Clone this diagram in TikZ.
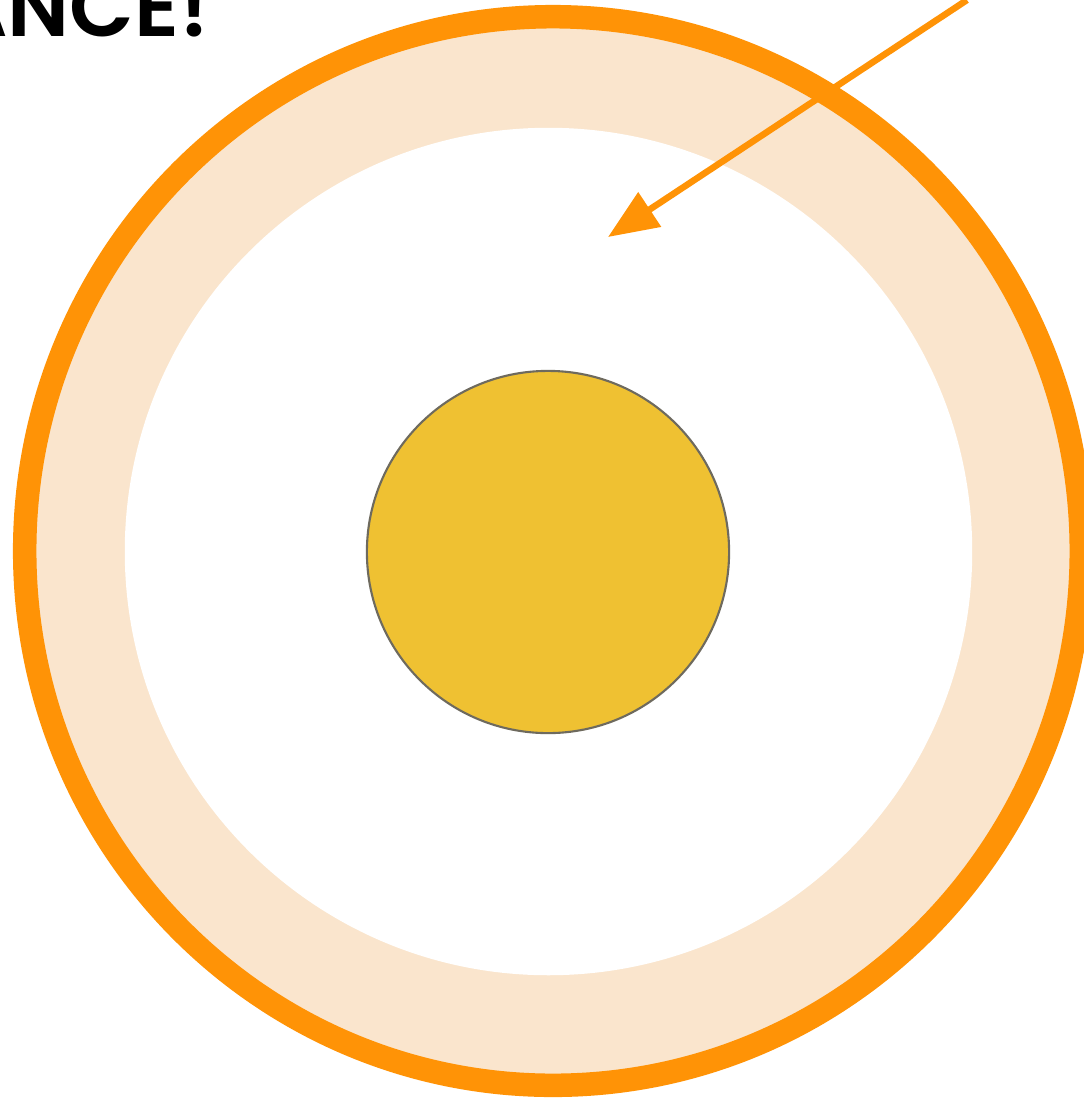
\documentclass[tikz,border=0pt]{standalone}
\usepackage{fontspec}
\setmainfont{Poppins}
\newfontfamily\headfont{Poppins}[UprightFont=* SemiBold]
\usetikzlibrary{arrows.meta}
\definecolor{ringorange}{HTML}{FF9306}
\definecolor{ringpale}{HTML}{FAE5CD}
\definecolor{coreyellow}{HTML}{EFC132}
\definecolor{coreedge}{HTML}{6E6A5E}
\tikzset{
  pointer/.style={ringorange,line width=0.065cm,-{Triangle[length=0.5cm,width=0.4cm]}},
  core/.style={circle,draw=coreedge,line width=0.6pt,fill=coreyellow,minimum size=3.62cm,inner sep=0pt},
  title/.style={font=\headfont\fontsize{24}{24}\selectfont,text=black,inner sep=0pt}
}
\begin{document}
\begin{tikzpicture}[x=0.01cm,y=-0.01cm]
\useasboundingbox (0,0) rectangle (1084,1099);
\clip (0,0) rectangle (1084,1099);
\fill[white] (0,0) rectangle (1084,1099);
% rings
\coordinate (mid) at (553,551);
\fill[ringpale] (mid) ellipse[x radius=5.28cm,y radius=5.34cm];
\fill[white] (548.5,551.5) circle[radius=4.235cm];
\draw[ringorange,line width=0.235cm] (mid) ellipse[x radius=5.28cm,y radius=5.34cm];
% core
\node[core] (sun) at (548,552) {};
% heading, cut by the edge
\node[title,anchor=base east] (head) at (210,36) {ANCE!};
% pointer
\coordinate (from) at (967,0);
\coordinate (to) at (608,237);
\draw[pointer] (from) -- (to);
\end{tikzpicture}
\end{document}
